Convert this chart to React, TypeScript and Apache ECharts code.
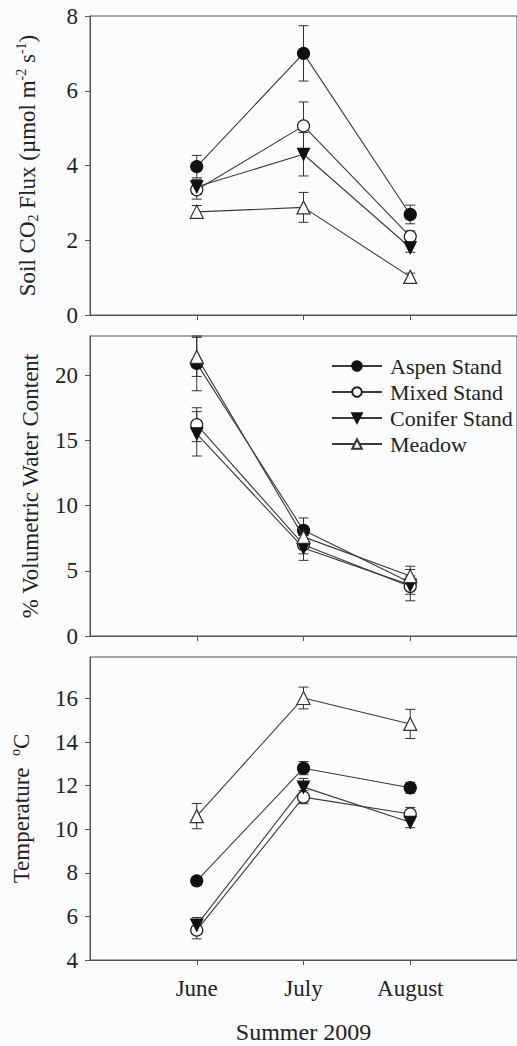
import React, { useEffect, useRef } from "react";
import * as echarts from "echarts";

const months = ["June", "July", "August"];
const seriesNames = ["Aspen Stand", "Mixed Stand", "Conifer Stand", "Meadow"];

// Soil CO2 flux (µmol m-2 s-1)
const fluxAspen = [3.97, 7.0, 2.69];
const fluxMixed = [3.35, 5.06, 2.1];
const fluxConifer = [3.43, 4.3, 1.8];
const fluxMeadow = [2.76, 2.88, 1.02];
const fluxAspenErr = [0.3, 0.74, 0.25];
const fluxMixedErr = [0.25, 0.64, 0.15];
const fluxConiferErr = [0.2, 0.58, 0.12];
const fluxMeadowErr = [0.17, 0.4, 0.1];

// % volumetric water content
const waterAspen = [20.9, 8.1, 4.1];
const waterMixed = [16.2, 7.0, 3.8];
const waterConifer = [15.5, 6.75, 3.9];
const waterMeadow = [21.4, 7.6, 4.6];
const waterAspenErr = [2.1, 0.95, 0.5];
const waterMixedErr = [1.3, 0.7, 0.6];
const waterConiferErr = [1.7, 0.95, 1.2];
const waterMeadowErr = [1.5, 0.8, 0.75];

// Temperature (°C)
const tempAspen = [7.63, 12.8, 11.9];
const tempMixed = [5.37, 11.47, 10.7];
const tempConifer = [5.6, 11.93, 10.32];
const tempMeadow = [10.6, 16.02, 14.83];
const tempAspenErr = [0.2, 0.3, 0.25];
const tempMixedErr = [0.4, 0.3, 0.3];
const tempConiferErr = [0.35, 0.4, 0.25];
const tempMeadowErr = [0.58, 0.5, 0.67];

const fluxTicks = [0, 2, 4, 6, 8];
const waterTicks = [0, 5, 10, 15, 20];
const tempTicks = [4, 6, 8, 10, 12, 14, 16];
const monthPositions = [1, 2, 3];

const FONT = "'Liberation Serif', 'Times New Roman', serif";
const AXIS = "#555";
const TEXT = "#222";
const LINE = "#3a3a3a";

const markerStyles = [
  { symbol: "circle", size: 12, fill: "#111", border: "#111", rotate: 0 },
  { symbol: "circle", size: 12, fill: "#fff", border: "#222", rotate: 0 },
  { symbol: "triangle", size: 12, fill: "#111", border: "#111", rotate: 180 },
  { symbol: "triangle", size: 13, fill: "#fff", border: "#333", rotate: 0 },
];

export default function App() {
  const ref = useRef<HTMLDivElement>(null);

  useEffect(() => {
    if (!ref.current) return;
    const chart = echarts.init(ref.current, null, { renderer: "svg" });

    const panels = [
      {
        means: [fluxAspen, fluxMixed, fluxConifer, fluxMeadow],
        errs: [fluxAspenErr, fluxMixedErr, fluxConiferErr, fluxMeadowErr],
      },
      {
        means: [waterAspen, waterMixed, waterConifer, waterMeadow],
        errs: [waterAspenErr, waterMixedErr, waterConiferErr, waterMeadowErr],
      },
      {
        means: [tempAspen, tempMixed, tempConifer, tempMeadow],
        errs: [tempAspenErr, tempMixedErr, tempConiferErr, tempMeadowErr],
      },
    ];

    const grids = [
      { left: 90, width: 432, top: 16, height: 299 },
      { left: 90, width: 432, top: 336, height: 300 },
      { left: 90, width: 432, top: 657, height: 303 },
    ].map((g) => ({ ...g, show: true, borderColor: AXIS, borderWidth: 1, backgroundColor: "transparent" }));

    const xAxes = [0, 1, 2].map((i) => ({
      type: "value",
      gridIndex: i,
      min: 0,
      max: 4,
      axisLine: { show: true, lineStyle: { color: AXIS, width: 1 } },
      axisTick: { show: true, length: 5, lineStyle: { color: AXIS }, customValues: monthPositions },
      axisLabel: {
        show: i === 2,
        customValues: monthPositions,
        formatter: (v: number) => months[Math.round(v) - 1] ?? "",
        fontFamily: FONT,
        fontSize: 23,
        color: TEXT,
        margin: 17,
      },
      splitLine: { show: false },
      name: i === 2 ? "Summer 2009" : "",
      nameLocation: "middle",
      nameGap: 60,
      nameTextStyle: { fontFamily: FONT, fontSize: 24, color: TEXT },
    }));

    const baseY = (i: number, min: number, max: number, ticks: number[], name: string, gap: number, rich?: any) => ({
      type: "value",
      gridIndex: i,
      min,
      max,
      axisLine: { show: true, lineStyle: { color: AXIS, width: 1 } },
      axisTick: { show: true, length: 5, lineStyle: { color: AXIS }, customValues: ticks },
      axisLabel: { customValues: ticks, fontFamily: FONT, fontSize: 23, color: TEXT, margin: 12 },
      splitLine: { show: false },
      name,
      nameLocation: "middle",
      nameGap: gap,
      nameTextStyle: { fontFamily: FONT, fontSize: 23, color: TEXT, ...(rich ? { rich } : {}) },
    });

    const richStyles = {
      a: { fontFamily: FONT, fontSize: 23, color: TEXT, lineHeight: 26 },
      b: { fontFamily: FONT, fontSize: 14, color: TEXT, lineHeight: 14, verticalAlign: "bottom" },
      c: { fontFamily: FONT, fontSize: 14, color: TEXT, lineHeight: 14, verticalAlign: "top" },
    };

    const yAxes = [
      baseY(0, 0, 8, fluxTicks, "{a|Soil CO}{b|2}{a| Flux (µmol m}{c|-2}{a| s}{c|-1}{a|)}", 50, richStyles),
      baseY(1, 0, 23, waterTicks, "% Volumetric Water Content", 48),
      baseY(2, 4, 17.9, tempTicks, "{a|Temperature  }{c|o}{a|C}", 56, richStyles),
    ];

    const series: any[] = [];
    panels.forEach((p, pi) => {
      p.means.forEach((vals, si) => {
        const errs = p.errs[si];
        series.push({
          type: "custom",
          name: "err-" + pi + "-" + si,
          xAxisIndex: pi,
          yAxisIndex: pi,
          z: 1,
          data: vals.map((v, k) => [monthPositions[k], v - errs[k], v + errs[k]]),
          encode: { x: 0, y: [1, 2] },
          renderItem: (params: any, api: any) => {
            const x = api.value(0);
            const top = api.coord([x, api.value(2)]);
            const bot = api.coord([x, api.value(1)]);
            const half = 5;
            const style = { stroke: "#333", lineWidth: 1 };
            return {
              type: "group",
              children: [
                { type: "line", shape: { x1: top[0], y1: top[1], x2: bot[0], y2: bot[1] }, style },
                { type: "line", shape: { x1: top[0] - half, y1: top[1], x2: top[0] + half, y2: top[1] }, style },
                { type: "line", shape: { x1: bot[0] - half, y1: bot[1], x2: bot[0] + half, y2: bot[1] }, style },
              ],
            };
          },
          silent: true,
        });
      });
      p.means.forEach((vals, si) => {
        const m = markerStyles[si];
        series.push({
          type: "line",
          name: seriesNames[si],
          xAxisIndex: pi,
          yAxisIndex: pi,
          z: 2 + si,
          data: vals.map((v, k) => [monthPositions[k], v]),
          symbol: m.symbol,
          symbolSize: m.size,
          symbolRotate: m.rotate,
          showAllSymbol: true,
          lineStyle: { color: LINE, width: 1.1 },
          itemStyle: { color: m.fill, borderColor: m.border, borderWidth: 1.2 },
          emphasis: { disabled: true },
        });
      });
    });

    chart.setOption({
      animation: false,
      backgroundColor: "#fbfcfd",
      grid: grids,
      xAxis: xAxes,
      yAxis: yAxes,
      legend: {
        data: seriesNames,
        orient: "vertical",
        left: 326,
        top: 350,
        itemWidth: 50,
        itemHeight: 12,
        itemGap: 4,
        selectedMode: false,
        textStyle: { fontFamily: FONT, fontSize: 22, color: TEXT, padding: [0, 0, 0, 3] },
      },
      series,
    });

    return () => chart.dispose();
  }, []);

  return (
    <div
      ref={ref}
      style={{ position: "fixed", left: 0, top: 0, width: 517, height: 1046 }}
    />
  );
}
